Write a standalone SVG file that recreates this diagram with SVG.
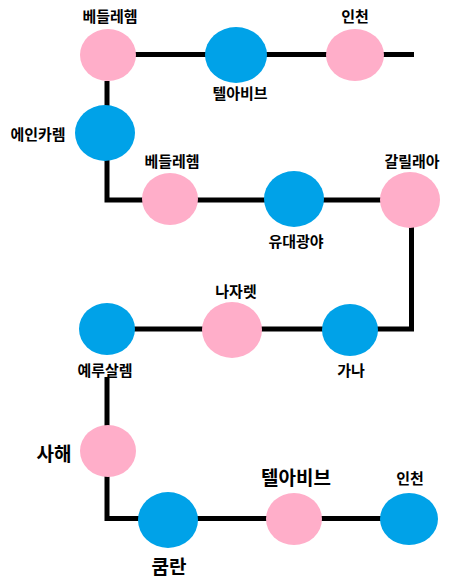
<svg xmlns="http://www.w3.org/2000/svg" width="455" height="578" viewBox="0 0 455 578">
<style>
.pink{fill:#FFAEC9}
.blue{fill:#00A2E8}
.lbl{font-family:"Noto Sans CJK KR","Noto Sans",sans-serif;font-size:15px;font-weight:bold;fill:#000;text-anchor:middle;dominant-baseline:central}
.big{font-size:19px}
.conn{fill:none;stroke:#000;stroke-width:5;stroke-linejoin:miter;stroke-linecap:butt}
</style>
<rect width="455" height="578" fill="#fff"/>
<g id="connectors">
<path class="conn" d="M108 54.5 H414"/>
<path class="conn" d="M107 81 V133"/>
<path class="conn" d="M107 133 V200 H170"/>
<path class="conn" d="M170 200 H410"/>
<path class="conn" d="M411.5 200 V329 H350"/>
<path class="conn" d="M350 329 H107"/>
<path class="conn" d="M107 377 V518.5 H168"/>
<path class="conn" d="M168 518.5 H409"/>
</g>
<g id="n1"><ellipse class="pink" cx="108" cy="55" rx="28" ry="26"/><text class="lbl" x="110" y="15">베들레헴</text></g>
<g id="n2"><ellipse class="blue" cx="236" cy="55" rx="31" ry="28"/><text class="lbl" x="240" y="92">텔아비브</text></g>
<g id="n3"><ellipse class="pink" cx="355" cy="55" rx="29" ry="26"/><text class="lbl" x="355" y="15">인천</text></g>
<g id="n4"><ellipse class="blue" cx="105" cy="133" rx="30" ry="28"/><text class="lbl" x="38" y="133">에인카렘</text></g>
<g id="n5"><ellipse class="pink" cx="170" cy="199" rx="28" ry="26"/><text class="lbl" x="172" y="160">베들레헴</text></g>
<g id="n6"><ellipse class="blue" cx="294" cy="199" rx="30" ry="28"/><text class="lbl" x="296" y="240">유대광야</text></g>
<g id="n7"><ellipse class="pink" cx="410" cy="200" rx="30" ry="28"/><text class="lbl" x="412" y="160">갈릴래아</text></g>
<g id="n8"><ellipse class="blue" cx="107" cy="329" rx="28" ry="26"/><text class="lbl" x="105" y="369">예루살렘</text></g>
<g id="n9"><ellipse class="pink" cx="232" cy="330" rx="30" ry="28"/><text class="lbl" x="236" y="290">나자렛</text></g>
<g id="n10"><ellipse class="blue" cx="350" cy="330" rx="28" ry="26"/><text class="lbl" x="351" y="369">가나</text></g>
<g id="n11"><ellipse class="pink" cx="108" cy="451" rx="28" ry="26"/><text class="lbl big" x="54" y="452">사해</text></g>
<g id="n12"><ellipse class="blue" cx="168" cy="520" rx="30" ry="28"/><text class="lbl big" x="169" y="565">쿰란</text></g>
<g id="n13"><ellipse class="pink" cx="294" cy="519" rx="28" ry="26"/><text class="lbl big" x="296" y="476">텔아비브</text></g>
<g id="n14"><ellipse class="blue" cx="409" cy="519" rx="29" ry="26"/><text class="lbl" x="410" y="477">인천</text></g>
</svg>
